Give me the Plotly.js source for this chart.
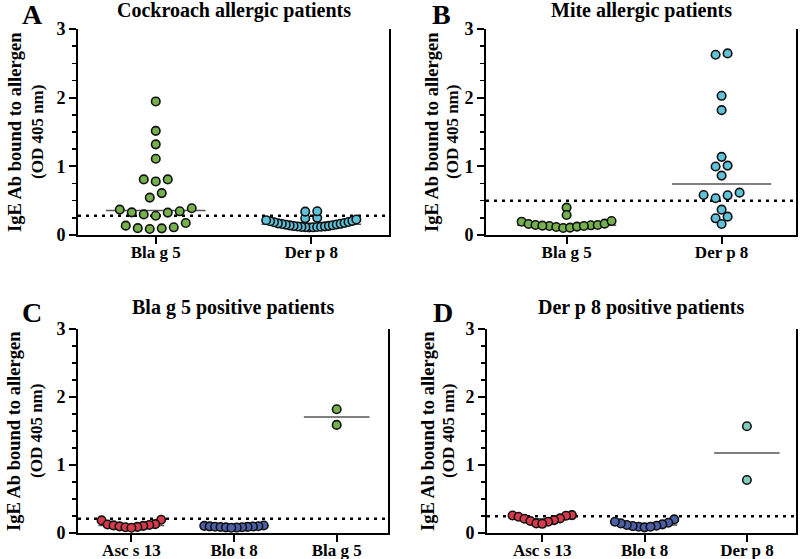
<!DOCTYPE html>
<html><head><meta charset="utf-8">
<script src="https://cdn.plot.ly/plotly-3.0.1.min.js"></script>
<style>html,body{margin:0;padding:0;background:#fff}#chart{width:800px;height:559px}</style>
</head><body><div id="chart"></div>
<script>
// ---------- DATA ----------
const yTickValues = [0, 1, 2, 3];
const yTitleLine1 = "IgE Ab bound to allergen";
const yTitleLine2 = "(OD 405 nm)";

const titleA = "Cockroach allergic patients";
const catsA = ["Bla g 5", "Der p 8"];
const A_blag5 = [1.945, 1.517, 1.32, 1.11, 0.81, 0.78, 0.81, 0.545, 0.61, 0.37, 0.33, 0.30, 0.28, 0.326, 0.345, 0.39, 0.136, 0.10, 0.088, 0.097, 0.112, 0.175];
const A_derp8 = [0.11, 0.112, 0.114, 0.116, 0.118, 0.12, 0.124, 0.126, 0.13, 0.133, 0.14, 0.143, 0.15, 0.153, 0.16, 0.163, 0.17, 0.174, 0.185, 0.19, 0.2, 0.205, 0.215, 0.225, 0.243, 0.25, 0.34, 0.345];
const cutoffA = 0.28;

const titleB = "Mite allergic patients";
const catsB = ["Bla g 5", "Der p 8"];
const B_blag5 = [0.194, 0.16, 0.146, 0.141, 0.131, 0.117, 0.102, 0.107, 0.122, 0.131, 0.136, 0.146, 0.165, 0.204, 0.399, 0.292];
const B_derp8 = [2.645, 2.625, 2.027, 1.818, 1.138, 0.997, 1.011, 0.865, 0.617, 0.535, 0.578, 0.583, 0.369, 0.267, 0.243, 0.16];
const cutoffB = 0.5;

const titleC = "Bla g 5 positive patients";
const catsC = ["Asc s 13", "Blo t 8", "Bla g 5"];
const C_ascs13 = [0.195, 0.185, 0.13, 0.125, 0.118, 0.112, 0.105, 0.098, 0.09, 0.085, 0.078];
const C_blot8 = [0.11, 0.105, 0.1, 0.098, 0.095, 0.092, 0.09, 0.088, 0.085, 0.083, 0.08, 0.078];
const C_blag5 = [1.82, 1.59];
const cutoffC = 0.21;

const titleD = "Der p 8 positive patients";
const catsD = ["Asc s 13", "Blo t 8", "Der p 8"];
const D_ascs13 = [0.263, 0.258, 0.254, 0.239, 0.215, 0.21, 0.19, 0.176, 0.166, 0.141, 0.135];
const D_blot8 = [0.2, 0.151, 0.127, 0.107, 0.093, 0.083, 0.093, 0.102, 0.117, 0.141, 0.166];
const D_derp8 = [1.57, 0.78];
const cutoffD = 0.245;

const letters = ["A", "B", "C", "D"];

// ---------- STYLE / LAYOUT ----------
const W = 800, H = 559;
const FONT = "Liberation Serif, Times New Roman, serif";
const green = "#74b04c", sky = "#5fc2da", red = "#d83a4b", navy = "#4b60a8", teal = "#7fcbbd";

const panels = [
  {title: titleA, cats: catsA, groups: [[A_blag5, green], [A_derp8, sky]], cutoff: cutoffA,
   xpx: [78, 389], ypx: [29, 235], range: [-0.5, 1.5], titleY: 10, ytx: [15, 37]},
  {title: titleB, cats: catsB, groups: [[B_blag5, green], [B_derp8, sky]], cutoff: cutoffB,
   xpx: [486, 796], ypx: [29, 235], range: [-0.52, 1.48], titleY: 10, ytx: [432, 452]},
  {title: titleC, cats: catsC, groups: [[C_ascs13, red], [C_blot8, navy], [C_blag5, green]], cutoff: cutoffC,
   xpx: [78, 388], ypx: [329, 533], range: [-0.52, 2.5], titleY: 308, ytx: [14, 36]},
  {title: titleD, cats: catsD, groups: [[D_ascs13, red], [D_blot8, navy], [D_derp8, teal]], cutoff: cutoffD,
   xpx: [487, 796], ypx: [329, 533], range: [-0.54, 2.48], titleY: 308, ytx: [428, 448]}
];
const letterPos = [[32, 14], [441, 14], [32, 312], [443, 312]];

const GAP = 0.07, SPAN = 0.13, SLOT_PX = 12, MAXW_CAT = 0.58, MED_HALF = 0.32;

function median(a) {
  const s = a.slice().sort((x, y) => x - y), n = s.length;
  return n % 2 ? s[(n - 1) / 2] : (s[n / 2 - 1] + s[n / 2]) / 2;
}
function swarm(vals, pxPerCat) {
  const idx = vals.map((v, i) => i).sort((a, b) => vals[a] - vals[b]);
  const rows = []; let cur = null;
  for (const i of idx) {
    const v = vals[i];
    if (!cur || v - cur.prev > GAP || v - cur.start > SPAN) { cur = {start: v, prev: v, items: []}; rows.push(cur); }
    cur.items.push(i); cur.prev = v;
  }
  const off = new Array(vals.length).fill(0);
  const maxW = MAXW_CAT * pxPerCat;
  rows.forEach(r => {
    const n = r.items.length;
    const slot = n > 1 ? Math.min(SLOT_PX, maxW / (n - 1)) : 0;
    r.items.forEach((i, k) => {
      let s;
      if (n % 2 === 1) s = k === 0 ? 0 : (k % 2 === 1 ? -Math.ceil(k / 2) : Math.ceil(k / 2));
      else { const m = Math.floor(k / 2) + 0.5; s = k % 2 === 0 ? -m : m; }
      off[i] = s * slot / pxPerCat;
    });
  });
  return off;
}

const traces = [], annotations = [];
const layout = {
  width: W, height: H, margin: {l: 0, r: 0, t: 0, b: 0},
  paper_bgcolor: "#fff", plot_bgcolor: "#fff", showlegend: false,
  font: {family: FONT, color: "#000"}, annotations: annotations
};

panels.forEach((p, pi) => {
  const sfx = pi === 0 ? "" : String(pi + 1);
  const xa = "x" + sfx, ya = "y" + sfx;
  const pxPerCat = (p.xpx[1] - p.xpx[0]) / (p.range[1] - p.range[0]);
  layout["xaxis" + sfx] = {
    domain: [p.xpx[0] / W, p.xpx[1] / W], range: p.range, anchor: ya,
    tickvals: p.cats.map((c, i) => i), ticktext: p.cats,
    showline: true, linewidth: 2, linecolor: "#000", ticks: "outside", ticklen: 7, tickwidth: 2, tickcolor: "#000",
    ticklabelstandoff: -6,
    showgrid: false, zeroline: false, fixedrange: true,
    tickfont: {family: FONT, size: 17, weight: "bold", color: "#000"}
  };
  layout["yaxis" + sfx] = {
    domain: [1 - p.ypx[1] / H, 1 - p.ypx[0] / H], range: [0, 3], anchor: xa,
    tickvals: yTickValues, ticktext: yTickValues.map(String),
    showline: true, linewidth: 2, linecolor: "#000", mirror: true,
    ticks: "outside", ticklen: 7, tickwidth: 2, tickcolor: "#000",
    minor: {dtick: 0.25, tick0: 0, ticks: "outside", ticklen: 4, tickwidth: 1.5, tickcolor: "#000"},
    showgrid: false, zeroline: false, fixedrange: true,
    tickfont: {family: FONT, size: 18, weight: "bold", color: "#000"}
  };
  traces.push({x: [p.range[0], p.range[1]], y: [p.cutoff, p.cutoff], xaxis: xa, yaxis: ya,
    mode: "lines", line: {color: "#000", width: 2.5, dash: "3px,5px"}, hoverinfo: "skip"});
  p.groups.forEach(([vals, col], gi) => {
    const med = median(vals);
    traces.push({x: [gi - MED_HALF, gi + MED_HALF], y: [med, med], xaxis: xa, yaxis: ya,
      mode: "lines", line: {color: "#555", width: 1.5}, hoverinfo: "skip"});
  });
  p.groups.forEach(([vals, col], gi) => {
    const off = swarm(vals, pxPerCat);
    traces.push({x: vals.map((v, i) => gi + off[i]), y: vals, xaxis: xa, yaxis: ya,
      type: "scatter", mode: "markers",
      marker: {size: 8.5, color: col, line: {color: "#111", width: 1.6}}});
  });
  const cx = (p.xpx[0] + p.xpx[1]) / 2 / W;
  const cy = 1 - (p.ypx[0] + p.ypx[1]) / 2 / H;
  annotations.push({text: "<b>" + p.title + "</b>", xref: "paper", yref: "paper", borderpad: 0,
    x: cx, y: 1 - p.titleY / H, xanchor: "center", yanchor: "middle", showarrow: false,
    font: {family: FONT, size: 20, color: "#000"}});
  annotations.push({text: "<b>" + yTitleLine1 + "</b>", xref: "paper", yref: "paper", textangle: -90, borderpad: 0,
    x: p.ytx[0] / W, y: cy, xanchor: "center", yanchor: "middle", showarrow: false,
    font: {family: FONT, size: 18.5, color: "#000"}});
  annotations.push({text: "<b>" + yTitleLine2 + "</b>", xref: "paper", yref: "paper", textangle: -90, borderpad: 0,
    x: p.ytx[1] / W, y: cy, xanchor: "center", yanchor: "middle", showarrow: false,
    font: {family: FONT, size: 17, color: "#000"}});
  annotations.push({text: "<b>" + letters[pi] + "</b>", xref: "paper", yref: "paper", borderpad: 0,
    x: letterPos[pi][0] / W, y: 1 - letterPos[pi][1] / H, xanchor: "center", yanchor: "middle", showarrow: false,
    font: {family: FONT, size: 28, color: "#000"}});
});

Plotly.newPlot("chart", traces, layout, {displayModeBar: false, staticPlot: true});
</script></body></html>
